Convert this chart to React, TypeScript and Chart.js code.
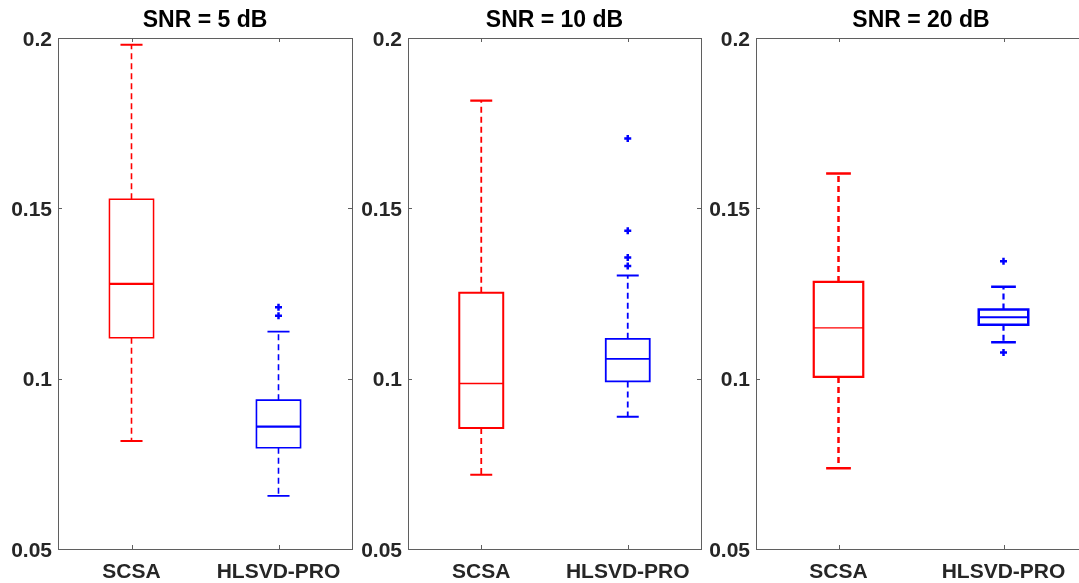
import React, { useEffect, useRef } from "react";
import { Chart, registerables } from "chart.js";

Chart.register(...registerables);

// ---------------- data ----------------
const categories = ["SCSA", "HLSVD-PRO"];
const panelTitles = ["SNR = 5 dB", "SNR = 10 dB", "SNR = 20 dB"];
const yTickValues = [0.05, 0.1, 0.15, 0.2];
const yTickLabels = ["0.05", "0.1", "0.15", "0.2"];

const snr5Min = [0.0817, 0.0656];
const snr5Q1 = [0.112, 0.0797];
const snr5Median = [0.1278, 0.0859];
const snr5Q3 = [0.1527, 0.0937];
const snr5Max = [0.198, 0.1138];
const snr5Outliers: number[][] = [[], [0.1185, 0.121]];

const snr10Min = [0.0718, 0.0888];
const snr10Q1 = [0.0855, 0.0992];
const snr10Median = [0.0986, 0.1058];
const snr10Q3 = [0.1252, 0.1117];
const snr10Max = [0.1816, 0.1303];
const snr10Outliers: number[][] = [[], [0.1331, 0.1356, 0.1434, 0.1705]];

const snr20Min = [0.0737, 0.1107];
const snr20Q1 = [0.1005, 0.1158];
const snr20Median = [0.1149, 0.118];
const snr20Q3 = [0.1284, 0.1203];
const snr20Max = [0.1602, 0.127];
const snr20Outliers: number[][] = [[], [0.1077, 0.1345]];

const seriesColors = ["#ff0000", "#0000ff"];

// ---------------- layout / styles ----------------
const PLOT_BOTTOM = 549;
const AXIS_W = 58;
const panelGeom = [
  { left: 58, right: 352 },
  { left: 408, right: 701 },
  { left: 756, right: 1086 },
];
const panelStyle = [
  { box: [1.5, 1.6], median: [2.2, 2.2], whisker: [1.6, 1.6], cap: [2, 1.8] },
  { box: [2, 1.8], median: [1.5, 1.8], whisker: [1.8, 1.8], cap: [2.2, 2] },
  { box: [2.2, 2.5], median: [1.3, 2], whisker: [2.5, 2.2], cap: [2.5, 2.5] },
];

const panels = [
  { title: panelTitles[0], min: snr5Min, q1: snr5Q1, med: snr5Median, q3: snr5Q3, max: snr5Max, out: snr5Outliers },
  { title: panelTitles[1], min: snr10Min, q1: snr10Q1, med: snr10Median, q3: snr10Q3, max: snr10Max, out: snr10Outliers },
  { title: panelTitles[2], min: snr20Min, q1: snr20Q1, med: snr20Median, q3: snr20Q3, max: snr20Max, out: snr20Outliers },
];

const BOX_HALF = 0.15; // in category units
const CAP_HALF = 0.075;
const AXIS_COLOR = "#5f5f5f";
const TEXT_COLOR = "#262626";
const FONT = "'Liberation Sans', Arial, Helvetica, sans-serif";

function makeBoxPlugin(idx: number) {
  const p = panels[idx];
  const st = panelStyle[idx];
  return {
    id: "boxplot" + idx,
    beforeDatasetsDraw(chart: any) {
      const ctx = chart.ctx;
      const xs = chart.scales.x;
      const ys = chart.scales.y;
      const area = chart.chartArea;
      ctx.save();
      // frame
      ctx.strokeStyle = AXIS_COLOR;
      ctx.lineWidth = 1;
      ctx.setLineDash([]);
      ctx.strokeRect(Math.round(area.left) + 0.5, Math.round(area.top) + 0.5, Math.round(area.right - area.left), Math.round(area.bottom - area.top));
      // ticks inward
      const tl = 4;
      ctx.beginPath();
      categories.forEach((_, i) => {
        const x = Math.round(xs.getPixelForValue(i + 1)) + 0.5;
        ctx.moveTo(x, area.bottom);
        ctx.lineTo(x, area.bottom - tl);
        ctx.moveTo(x, area.top);
        ctx.lineTo(x, area.top + tl);
      });
      yTickValues.forEach((v) => {
        const y = Math.round(ys.getPixelForValue(v)) + 0.5;
        ctx.moveTo(area.left, y);
        ctx.lineTo(area.left + tl, y);
        ctx.moveTo(area.right, y);
        ctx.lineTo(area.right - tl, y);
      });
      ctx.stroke();

      categories.forEach((_, i) => {
        const c = i + 1;
        const color = seriesColors[i];
        ctx.strokeStyle = color;
        const xc = xs.getPixelForValue(c);
        const xl = xs.getPixelForValue(c - BOX_HALF);
        const xr = xs.getPixelForValue(c + BOX_HALF);
        const cl = xs.getPixelForValue(c - CAP_HALF);
        const cr = xs.getPixelForValue(c + CAP_HALF);
        const yMin = ys.getPixelForValue(p.min[i]);
        const yQ1 = ys.getPixelForValue(p.q1[i]);
        const yMed = ys.getPixelForValue(p.med[i]);
        const yQ3 = ys.getPixelForValue(p.q3[i]);
        const yMax = ys.getPixelForValue(p.max[i]);
        // whiskers dashed
        ctx.lineWidth = st.whisker[i];
        ctx.setLineDash([6, 4]);
        ctx.beginPath();
        ctx.moveTo(xc, yQ3);
        ctx.lineTo(xc, yMax);
        ctx.moveTo(xc, yQ1);
        ctx.lineTo(xc, yMin);
        ctx.stroke();
        ctx.setLineDash([]);
        // caps
        ctx.lineWidth = st.cap[i];
        ctx.beginPath();
        ctx.moveTo(cl, yMax);
        ctx.lineTo(cr, yMax);
        ctx.moveTo(cl, yMin);
        ctx.lineTo(cr, yMin);
        ctx.stroke();
        // box
        ctx.lineWidth = st.box[i];
        ctx.beginPath();
        ctx.rect(xl, yQ3, xr - xl, yQ1 - yQ3);
        ctx.stroke();
        // median
        ctx.lineWidth = st.median[i];
        ctx.beginPath();
        ctx.moveTo(xl, yMed);
        ctx.lineTo(xr, yMed);
        ctx.stroke();
      });
      ctx.restore();
    },
  };
}

function Panel({ idx }: { idx: number }) {
  const ref = useRef<HTMLCanvasElement | null>(null);
  const g = panelGeom[idx];
  const plotW = g.right - g.left;
  const canvasW = plotW + 2 * AXIS_W;
  const canvasH = 583;
  useEffect(() => {
    if (!ref.current) return;
    const p = panels[idx];
    const datasets = categories.map((_, i) => ({
      type: "scatter" as const,
      data: p.out[i].map((v) => ({ x: i + 1, y: v })),
      pointStyle: "cross",
      pointRadius: 3.5,
      pointBorderWidth: 2.5,
      borderColor: seriesColors[i],
      backgroundColor: seriesColors[i],
    }));
    const chart = new Chart(ref.current, {
      type: "scatter",
      data: { datasets },
      plugins: [makeBoxPlugin(idx)],
      options: {
        animation: false,
        responsive: false,
        maintainAspectRatio: false,
        layout: { padding: 0 },
        plugins: {
          legend: { display: false },
          tooltip: { enabled: false },
          title: {
            display: true,
            text: p.title,
            color: "#000000",
            font: { family: FONT, size: 23, weight: "bold", lineHeight: 1 },
            padding: { top: 9.5, bottom: 5.5 },
          },
        },
        scales: {
          x: {
            type: "linear",
            min: 0.5,
            max: 2.5,
            grid: { display: false, drawTicks: false },
            border: { display: false },
            afterBuildTicks: (scale: any) => {
              scale.ticks = categories.map((_, i) => ({ value: i + 1 }));
            },
            afterFit: (scale: any) => {
              scale.height = canvasH - PLOT_BOTTOM;
            },
            ticks: {
              autoSkip: false,
              maxRotation: 0,
              padding: 11,
              color: TEXT_COLOR,
              font: { family: FONT, size: 21, weight: "bold" },
              callback: (v: any) => categories[Math.round(Number(v)) - 1] ?? "",
            },
          },
          y: {
            type: "linear",
            position: "left",
            min: 0.05,
            max: 0.2,
            grid: { display: false, drawTicks: false },
            border: { display: false },
            afterBuildTicks: (scale: any) => {
              scale.ticks = yTickValues.map((v) => ({ value: v }));
            },
            afterFit: (scale: any) => {
              scale.width = AXIS_W;
            },
            ticks: {
              padding: 6,
              labelOffset: 2,
              color: TEXT_COLOR,
              font: { family: FONT, size: 21, weight: "bold" },
              callback: (v: any) => {
                const k = yTickValues.findIndex((t) => Math.abs(t - Number(v)) < 1e-9);
                return k >= 0 ? yTickLabels[k] : "";
              },
            },
          },
          yRight: {
            type: "linear",
            position: "right",
            min: 0.05,
            max: 0.2,
            grid: { display: false, drawTicks: false },
            border: { display: false },
            ticks: { display: false },
            afterFit: (scale: any) => {
              scale.width = AXIS_W;
            },
          },
        },
      } as any,
    });
    return () => chart.destroy();
  }, [idx]);
  return (
    <canvas
      ref={ref}
      width={canvasW}
      height={canvasH}
      style={{ position: "absolute", left: g.left - AXIS_W, top: 0, width: canvasW, height: canvasH }}
    />
  );
}

export default function App() {
  return (
    <div style={{ position: "fixed", left: 0, top: 0, width: 1079, height: 583, overflow: "hidden", background: "#ffffff" }}>
      {panels.map((_, i) => (
        <Panel key={i} idx={i} />
      ))}
    </div>
  );
}
